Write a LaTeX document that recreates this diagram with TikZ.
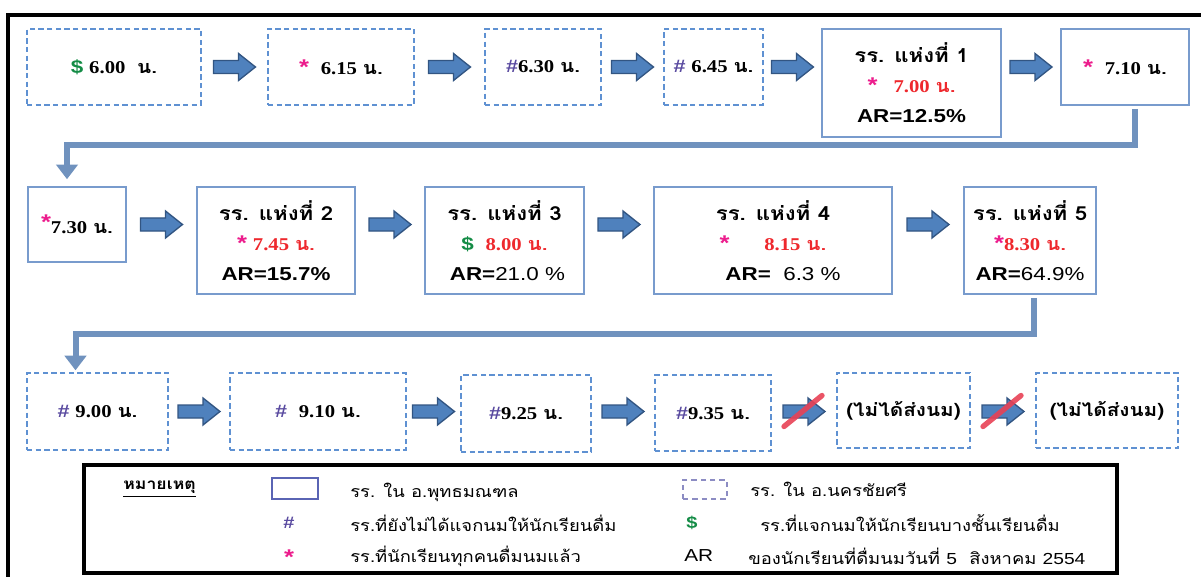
\documentclass[tikz,border=0pt]{standalone}
\usepackage{fontspec}
\usetikzlibrary{arrows.meta,calc}
\newfontfamily\thai[Script=Thai,FakeStretch=1.15]{Loma}
\newfontfamily\tms[FakeStretch=1.15]{Liberation Serif}
\newfontfamily\ars[FakeStretch=1.2]{Liberation Sans}
\definecolor{dboxc}{RGB}{95,145,210}
\definecolor{sboxc}{RGB}{120,155,205}
\definecolor{afill}{RGB}{79,129,189}
\definecolor{adraw}{RGB}{50,85,130}
\definecolor{connc}{RGB}{112,146,190}
\definecolor{cred}{RGB}{238,40,45}
\definecolor{cpink}{RGB}{236,28,140}
\definecolor{cgreen}{RGB}{20,140,70}
\definecolor{cpurp}{RGB}{90,75,160}
\definecolor{slashc}{RGB}{232,65,85}
\definecolor{legsol}{RGB}{90,100,180}
\definecolor{legdash}{RGB}{140,140,195}
\newcommand\tm[1]{{\tms\bfseries #1}}
\newcommand\nn{{\thai\bfseries น.}}
\newcommand\st{{\fontsize{16}{22.5}\selectfont\ars\bfseries\color{cpink}*}}
\newcommand\dol{{\fontsize{14}{22.5}\selectfont\ars\bfseries\color{cgreen}\$}}
\newcommand\hs{{\ars\bfseries\color{cpurp}\#}}
\newcommand\hd[1]{{\fontsize{14.5}{22.5}\selectfont\thai\bfseries #1}}
\newcommand\arb[1]{{\fontsize{14}{22.5}\selectfont\ars\bfseries #1}}
\newcommand\arn[1]{{\fontsize{14}{22.5}\selectfont\ars #1}}
\newcommand\bx[7]{\node[#6, minimum width={(#4-#2)*0.75pt}, minimum height={(#5-#3)*0.75pt}] (#1) at ({(#2+#4)/2},{(#3+#5)/2}) {#7};}
\newcommand\barr[4][barrow]{\path let \p1=(#2.east), \p2=(#3.west), \p3=(#4.center) in ({(\x1+\x2)/2},\y3) pic {#1};}
\tikzset{
  dbox/.style={draw=dboxc, dash pattern=on 4pt off 2.5pt, line width=1pt, inner sep=0pt, font=\fontsize{13.5}{22.5}\selectfont},
  sbox/.style={draw=sboxc, line width=1.2pt, inner sep=0pt, align=center, font=\fontsize{13.5}{22.5}\selectfont},
  conn/.style={draw=connc, line width=4.5pt, -{Triangle[width=16pt,length=11pt]}},
  legbox/.style={draw=black, line width=2.3pt, inner sep=0pt},
  legsolid/.style={draw=legsol, line width=1.1pt, inner sep=0pt},
  legdashed/.style={draw=legdash, dash pattern=on 4pt off 3pt, line width=1pt, inner sep=0pt},
  ltext/.style={anchor=west, inner sep=0pt, font=\fontsize{12}{13}\selectfont\thai},
  lsym/.style={inner sep=0pt, font=\fontsize{12.5}{13}\selectfont\ars\bfseries},
  barrow/.pic={\draw[adraw, fill=afill, line width=1pt] (-21,-6.5) -- (4,-6.5) -- (4,-13.5) -- (21,0) -- (4,13.5) -- (4,6.5) -- (-21,6.5) -- cycle;},
  xarrow/.pic={\draw[adraw, fill=afill, line width=1pt] (-21,-6.5) -- (4,-6.5) -- (4,-13.5) -- (21,0) -- (4,13.5) -- (4,6.5) -- (-21,6.5) -- cycle;
               \draw[slashc, opacity=.9, line width=4pt, line cap=round] (-20,15) -- (18,-16);}
}
\begin{document}
\begin{tikzpicture}[x=0.75pt,y=-0.75pt]
\useasboundingbox (0,0) rectangle (1201,577);
% outer frame
\draw[line width=3pt] (8,577) -- (8,15.5) -- (1201,15.5);
% row 1
\bx{b1}{27}{29}{201}{105}{dbox}{\dol\ \tm{6.00}\ \ \nn}
\bx{b2}{268}{29}{414}{105}{dbox}{\st\ \ \tm{6.15} \nn}
\bx{b3}{485}{29}{601}{105}{dbox}{\hs\tm{6.30} \nn}
\bx{b4}{664}{29}{763}{105}{dbox}{\hs\ \tm{6.45} \nn}
\bx{b5}{822}{29}{1001}{137}{sbox}{\hd{รร. แห่งที่ 1}\\ \st\hspace{12pt}{\color{cred}\tm{7.00} \nn}\hspace{27pt}\\ \arb{AR=12.5\%}}
\bx{b6}{1061}{29}{1189}{105}{sbox}{\st\ \ \tm{7.10} \nn}
% row 2
\bx{b7}{28}{187}{126}{262}{sbox}{\raisebox{3pt}{\st}\tm{7.30} \nn}
\bx{b8}{197}{187}{355}{294}{sbox}{\hd{รร. แห่งที่ 2}\\ \st\ {\color{cred}\tm{7.45} \nn}\\ \arb{AR=15.7\%}}
\bx{b9}{425}{187}{584}{294}{sbox}{\hd{รร. แห่งที่ 3}\\ \dol\ \ {\color{cred}\tm{8.00} \nn}\\ \ \arb{AR=}\arn{21.0 \%}}
\bx{b10}{654}{187}{892}{294}{sbox}{\hd{รร. แห่งที่ 4}\\ \st\hspace{26pt}{\color{cred}\tm{8.15} \nn}\hspace{25pt}\\ \hspace{15pt}\arb{AR=}\arn{\ \ 6.3 \%}}
\bx{b11}{964}{187}{1096}{294}{sbox}{\hd{รร. แห่งที่ 5}\\ \st{\color{cred}\tm{8.30} \nn}\\ \arb{AR=}\arn{64.9\%}}
% row 3
\bx{b12}{27}{373}{168}{450}{dbox}{\hs\ \tm{9.00} \nn}
\bx{b13}{230}{373}{406}{450}{dbox}{\hs\ \ \tm{9.10} \nn}
\bx{b14}{461}{375}{591}{452}{dbox}{\hs\tm{9.25} \nn}
\bx{b15}{655}{375}{771}{451}{dbox}{\hs\tm{9.35} \nn}
\bx{b16}{837}{373}{970}{448}{dbox}{{\thai\bfseries (ไม่ได้ส่งนม)}}
\bx{b17}{1036}{373}{1178}{448}{dbox}{{\thai\bfseries (ไม่ได้ส่งนม)}}
% block arrows
\barr{b1}{b2}{b1}
\barr{b2}{b3}{b1}
\barr{b3}{b4}{b1}
\barr{b4}{b5}{b1}
\barr{b5}{b6}{b1}
\barr{b7}{b8}{b7}
\barr{b8}{b9}{b7}
\barr{b9}{b10}{b7}
\barr{b10}{b11}{b7}
\barr{b12}{b13}{b12}
\barr{b13}{b14}{b12}
\barr{b14}{b15}{b12}
\barr[xarrow]{b15}{b16}{b12}
\barr[xarrow]{b16}{b17}{b12}
% elbow connectors
\draw[conn] ($(b6.south)+(10,3)$) |- ($(b7.north)+(-10,-41)$) -- ($(b7.north)+(-10,-7)$);
\draw[conn] ($(b11.south)+(4,3)$) |- ($(b12.north)+(-22,-38)$) -- ($(b12.north)+(-22,-2)$);
% legend
\bx{leg}{84}{465}{1117}{573}{legbox}{}
\node[anchor=west, inner sep=0pt, font=\fontsize{11.5}{13}\selectfont\thai\bfseries] (lh) at (123,489) {\underline{หมายเหตุ}};
\bx{lsolid}{272}{478}{318}{499}{legsolid}{}
\node[ltext] (l1) at (350,492) {รร. ใน อ.พุทธมณฑล};
\node[lsym, text=cpurp] (s1) at (289,523) {\#};
\node[ltext] (l2) at (350,523) {รร.ที่ยังไม่ได้แจกนมให้นักเรียนดื่ม};
\node[lsym, text=cpink, font=\fontsize{16}{15}\selectfont\ars\bfseries] (s2) at (289,557) {*};
\node[ltext] (l3) at (350,556) {รร.ที่นักเรียนทุกคนดื่มนมแล้ว};
\bx{ldash}{683}{480}{727}{499}{legdashed}{}
\node[ltext] (l4) at (750,489) {รร. ใน อ.นครชัยศรี};
\node[lsym, text=cgreen] (s3) at (692,523) {\$};
\node[ltext] (l5) at (760,523) {รร.ที่แจกนมให้นักเรียนบางชั้นเรียนดื่ม};
\node[anchor=west, inner sep=0pt, font=\fontsize{13}{13}\selectfont\ars] (s4) at (684,556) {AR};
\node[ltext] (l6) at (748,556) {ของนักเรียนที่ดื่มนมวันที่ {\ars 5}\ \ สิงหาคม {\ars 2554}};
\end{tikzpicture}
\end{document}
